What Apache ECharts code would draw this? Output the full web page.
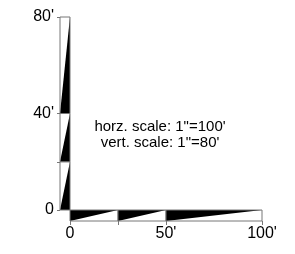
<!DOCTYPE html>
<html>
<head>
<meta charset="utf-8">
<script src="https://cdn.jsdelivr.net/npm/echarts@6/dist/echarts.min.js"></script>
<style>
  html, body { margin: 0; padding: 0; background: #fff; }
  #chart { width: 295px; height: 254px; }
</style>
</head>
<body>
<div id="chart"></div>
<script>
// scale bar values
const vTicks = [0, 20, 40, 80];
const vLabelValues = [0, 40, 80];
const vLabels = ["0", "40'", "80'"];
const hTicks = [0, 25, 50, 100];
const hLabelValues = [0, 50, 100];
const hLabels = ["0", "50'", "100'"];
const scaleNotes = ['horz. scale: 1"=100\'', 'vert. scale: 1"=80\''];

const lineGray = '#777';
const font = 'Liberation Sans, Arial, sans-serif';

const vSegs = [];
for (let i = 0; i < vTicks.length - 1; i++) vSegs.push([vTicks[i], vTicks[i + 1]]);
const hSegs = [];
for (let i = 0; i < hTicks.length - 1; i++) hSegs.push([hTicks[i], hTicks[i + 1]]);

const myChart = echarts.init(document.getElementById('chart'));

// vertical bar: wedge widens downward, black on right edge
const vItem = (params, api) => {
  const a = api.coord([0, api.value(0)]);
  const b = api.coord([1, api.value(1)]);
  return {
    type: 'group',
    children: [
      { type: 'polygon', shape: { points: [[a[0], a[1]], [b[0], a[1]], [b[0], b[1]]] }, style: { fill: '#000' } },
      { type: 'rect', shape: { x: a[0], y: b[1], width: b[0] - a[0], height: a[1] - b[1] }, style: { fill: null, stroke: lineGray, lineWidth: 1 } }
    ]
  };
};

// horizontal bar: wedge widens to the left, black on top edge
const hItem = (params, api) => {
  const a = api.coord([api.value(0), 0]);
  const b = api.coord([api.value(1), 1]);
  return {
    type: 'group',
    children: [
      { type: 'polygon', shape: { points: [[a[0], b[1]], [a[0], a[1]], [b[0], b[1]]] }, style: { fill: '#000' } },
      { type: 'rect', shape: { x: a[0], y: b[1], width: b[0] - a[0], height: a[1] - b[1] }, style: { fill: null, stroke: lineGray, lineWidth: 1 } }
    ]
  };
};

myChart.setOption({
  animation: false,
  grid: [
    { left: 60, top: 17, width: 10, height: 193 },
    { left: 70, top: 210, width: 192, height: 11 }
  ],
  xAxis: [
    { gridIndex: 0, type: 'value', min: 0, max: 1, show: false },
    {
      gridIndex: 1, type: 'value', min: 0, max: 100, position: 'bottom',
      axisLine: { show: false },
      splitLine: { show: false },
      axisTick: { customValues: hTicks, length: 4, lineStyle: { color: lineGray } },
      axisLabel: {
        customValues: hLabelValues, margin: 5, color: '#000', fontFamily: font, fontSize: 16,
        formatter: v => hLabels[hLabelValues.indexOf(v)]
      }
    }
  ],
  yAxis: [
    {
      gridIndex: 0, type: 'value', min: 0, max: 80, position: 'left',
      axisLine: { show: false },
      splitLine: { show: false },
      axisTick: { customValues: vTicks, length: 3, lineStyle: { color: lineGray } },
      axisLabel: {
        customValues: vLabelValues, margin: 6, color: '#000', fontFamily: font, fontSize: 16,
        formatter: v => vLabels[vLabelValues.indexOf(v)]
      }
    },
    { gridIndex: 1, type: 'value', min: 0, max: 1, show: false }
  ],
  series: [
    { type: 'custom', xAxisIndex: 0, yAxisIndex: 0, renderItem: vItem, data: vSegs, silent: true },
    { type: 'custom', xAxisIndex: 1, yAxisIndex: 1, renderItem: hItem, data: hSegs, silent: true }
  ],
  graphic: scaleNotes.map((t, i) => ({
    type: 'text', x: 160, y: 127 + i * 16,
    style: { text: t, fill: '#000', font: '15px ' + font, align: 'center', verticalAlign: 'middle' }
  }))
});
</script>
</body>
</html>
